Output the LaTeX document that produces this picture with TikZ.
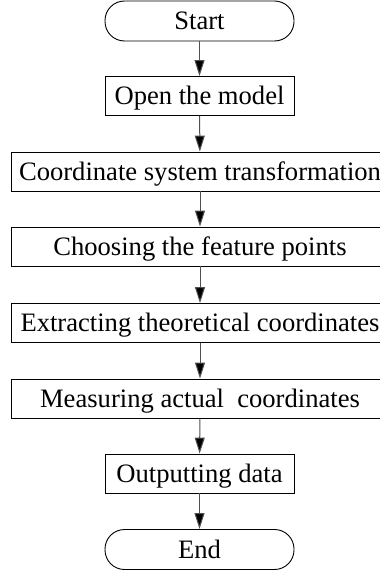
\documentclass[tikz,border=0pt]{standalone}
\usepackage{fontspec}
\setmainfont{Liberation Serif}
\usetikzlibrary{arrows.meta}
\definecolor{linegray}{HTML}{505050}
\tikzset{
  base/.style={draw=black, line width=0.9pt, inner sep=0pt, minimum height=39pt,
    text height=17.6pt, text depth=0pt, font=\fontsize{26.6pt}{30pt}\selectfont},
  stepbox/.style={base, rectangle},
  narrowbox/.style={stepbox, minimum width=189pt},
  widebox/.style={stepbox, minimum width=378pt},
  terminal/.style={base, rectangle, rounded corners=19.5pt, minimum width=189pt, minimum height=40pt},
  flow/.style={draw=linegray, line width=1pt, -{Triangle[length=16pt,width=10pt,fill=black]}}
}
\begin{document}
\begin{tikzpicture}[x=1pt,y=-1pt]
  \useasboundingbox (0,0) rectangle (380,570);
  \node[terminal]  (start) at (199.5,21)    {Start};
  \node[narrowbox] (open)  at (199.5,96)    {Open the model};
  \node[widebox]   (coord) at (200,171.5)   {Coordinate system transformation};
  \node[widebox]   (feat)  at (200,246.5)   {Choosing the feature points};
  \node[widebox]   (theo)  at (200,323)     {Extracting theoretical coordinates};
  \node[widebox]   (meas)  at (200,398.5)   {Measuring actual\ \ coordinates};
  \node[narrowbox] (out)   at (199.5,473.5) {Outputting data};
  \node[terminal]  (end)   at (199.5,549.5) {End};
  \draw[flow] (start) -- (open);
  \draw[flow] (open)  -- (coord);
  \draw[flow] (coord) -- (feat);
  \draw[flow] (feat)  -- (theo);
  \draw[flow] (theo)  -- (meas);
  \draw[flow] (meas)  -- (out);
  \draw[flow] (out)   -- (end);
\end{tikzpicture}
\end{document}
